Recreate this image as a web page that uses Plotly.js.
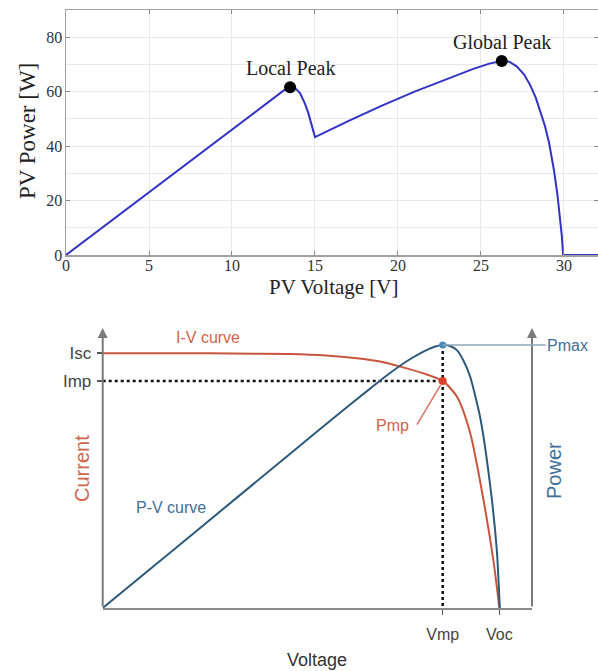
<!DOCTYPE html>
<html>
<head>
<meta charset="utf-8">
<script src="https://cdn.plot.ly/plotly-3.0.1.min.js"></script>
<style>
html,body{margin:0;padding:0;background:#fff;}
#chart{width:598px;height:671px;}
</style>
</head>
<body>
<div id="chart"></div>
<script>
// ---- Top chart: PV power vs PV voltage (partial shading, two peaks) ----
const pvVoltage = [0, 2, 5, 8, 10, 12, 12.8, 13.2, 13.5, 13.8, 14.1, 14.4, 14.6, 14.8, 14.9, 15.0,
  17, 19, 21, 23, 24.5, 25.5, 26.25, 26.7, 27.15, 27.6, 27.95, 28.3, 28.55, 28.85, 29.1, 29.4, 29.6, 29.75, 29.87, 29.95, 32.05];
const pvPower = [0, 9.2, 23, 36.8, 46, 55.2, 58.8, 60.8, 61.6, 61.3, 59.5, 55.5, 52.1, 48, 45.5, 43.3,
  49.2, 54.8, 60.0, 64.8, 68.3, 70.3, 71.3, 71.0, 69.3, 66.3, 62.6, 57.8, 53.3, 47.5, 41.3, 31, 22.5, 14.5, 7, 0, 0];
const peakNames = ["Local Peak", "Global Peak"];
const peakVoltage = [13.5, 26.25];
const peakPower = [61.6, 71.3];
const xTicksTop = [0, 5, 10, 15, 20, 25, 30];
const yTicksTop = [0, 20, 40, 60, 80];

// ---- Bottom chart: schematic I-V and P-V curves (normalised units) ----
const ivVoltage = [0, 20, 30, 43.6, 52, 59.2, 64.6, 69.3, 74.7, 79.2, 82.5, 85.6, 88.7, 91.0, 92.4];
const ivCurrent = [91.0, 91.0, 90.9, 90.7, 90.2, 89.2, 88.0, 86.2, 83.8, 81.1, 75.5, 62.5, 38.6, 17.1, 0];
const pvcVoltage = [0, 20, 43.6, 55, 62, 67, 71, 74.5, 77, 79.2, 81, 82.5, 84, 85.6, 87.9, 90.2, 91.8, 92.5];
const pvcPower = [0, 25.2, 55.0, 69.4, 78.0, 84.0, 88.3, 91.4, 93.1, 93.9, 93.5, 92.1, 88.5, 82.6, 68.3, 44.5, 20.7, 0];
const Isc = 91.0, Imp = 81.1, Pmax = 93.9, Vmp = 79.2, Voc = 92.4;
const yTickText = ["Isc", "Imp"];
const xTickText = ["Vmp", "Voc"];

const W = 598, H = 671;
const px = x => x / W;
const py = y => 1 - y / H;

const serif = "Liberation Serif, Times New Roman, serif";
const sans = "Liberation Sans, Arial, sans-serif";
const red = "#c9553f", redText = "#d0654c", blue = "#2d5a7b", blueText = "#3f6f97";

const traces = [
  {x: pvVoltage, y: pvPower, xaxis: "x", yaxis: "y", mode: "lines",
   line: {color: "#3232c4", width: 2}, hoverinfo: "skip"},
  {x: peakVoltage, y: peakPower, xaxis: "x", yaxis: "y", mode: "markers",
   marker: {color: "#000", size: 12}, cliponaxis: false},
  // dotted guide lines
  {x: [0, Vmp], y: [Imp, Imp], xaxis: "x2", yaxis: "y2", mode: "lines",
   line: {color: "#111", width: 2.5, dash: "dot"}},
  {x: [Vmp, Vmp], y: [Pmax, 0], xaxis: "x2", yaxis: "y2", mode: "lines",
   line: {color: "#111", width: 2.5, dash: "dot"}},
  {x: ivVoltage, y: ivCurrent, xaxis: "x2", yaxis: "y2", mode: "lines",
   line: {color: red, width: 2, shape: "spline", smoothing: 0.7}},
  {x: pvcVoltage, y: pvcPower, xaxis: "x2", yaxis: "y2", mode: "lines",
   line: {color: blue, width: 2, shape: "spline", smoothing: 0.6}},
  {x: [Vmp], y: [Pmax], xaxis: "x2", yaxis: "y2", mode: "markers",
   marker: {color: "#4a88ba", size: 7}},
  {x: [Vmp], y: [Imp], xaxis: "x2", yaxis: "y2", mode: "markers",
   marker: {color: "#d8422c", size: 8}}
];

const topAxisCommon = {
  showline: true, linecolor: "#a0a0a0", linewidth: 1.5, mirror: "ticks",
  ticks: "inside", ticklen: 4, tickcolor: "#888", tickwidth: 1,
  showgrid: true, gridcolor: "#e9e9e9", gridwidth: 1, zeroline: false,
  tickfont: {family: serif, size: 16, color: "#333"}
};

const layout = {
  width: W, height: H,
  margin: {l: 0, r: 0, t: 0, b: 0},
  paper_bgcolor: "#fff", plot_bgcolor: "#fff",
  showlegend: false,
  xaxis: Object.assign({}, topAxisCommon, {
    domain: [px(66), 1], range: [0, 32.05], anchor: "y",
    tickvals: xTicksTop, ticktext: xTicksTop.map(String), ticklabelstandoff: -5
  }),
  yaxis: Object.assign({}, topAxisCommon, {
    domain: [py(255), py(10)], range: [0, 90], anchor: "x",
    tickvals: yTicksTop, ticktext: yTicksTop.map(String), ticklabelstandoff: -1,
    minor: {dtick: 10, tick0: 0, showgrid: true, gridcolor: "#e9e9e9", ticks: ""}
  }),
  xaxis2: {
    domain: [px(102.7), px(532)], range: [0, 100], anchor: "y2",
    showgrid: false, zeroline: false, showline: true, linecolor: "#8a8a8a", linewidth: 2,
    ticks: "outside", ticklen: 5, tickcolor: "#555", tickwidth: 1.5,
    tickvals: [Vmp, Voc], ticktext: xTickText, ticklabelstandoff: 6,
    tickfont: {family: sans, size: 16, color: "#444"}
  },
  yaxis2: {
    domain: [py(608), py(328)], range: [0, 100], anchor: "x2",
    showgrid: false, zeroline: false, showline: false,
    ticks: "outside", ticklen: 5, tickcolor: "#555", tickwidth: 1.5,
    tickvals: [Isc, Imp], ticktext: yTickText, ticklabelstandoff: 2,
    tickfont: {family: sans, size: 17, color: "#444"}
  },
  shapes: [
    {type: "line", xref: "x2", yref: "y2", x0: 73.2, y0: 65.5, x1: 78.7, y1: 79.6,
     line: {color: "#d9735f", width: 1.5}}
  ],
  annotations: [
    // top chart texts
    {text: "PV Voltage [V]", xref: "paper", yref: "paper", x: px(334), y: py(287),
     xanchor: "center", yanchor: "middle", showarrow: false,
     font: {family: serif, size: 21, color: "#222"}},
    {text: "PV Power [W]", xref: "paper", yref: "paper", x: px(27), y: py(131),
     xanchor: "center", yanchor: "middle", showarrow: false, textangle: -90,
     font: {family: serif, size: 23, color: "#222"}},
    {text: peakNames[0], xref: "x", yref: "y", x: peakVoltage[0], y: peakPower[0],
     xanchor: "center", yanchor: "middle", yshift: 19, showarrow: false,
     font: {family: serif, size: 20, color: "#222"}},
    {text: peakNames[1], xref: "x", yref: "y", x: peakVoltage[1], y: peakPower[1],
     xanchor: "center", yanchor: "middle", yshift: 19, showarrow: false,
     font: {family: serif, size: 20, color: "#222"}},
    // bottom chart axes with arrows
    {xref: "x2", yref: "y2", axref: "x2", ayref: "y2", x: 0, y: 100, ax: 0, ay: 0,
     showarrow: true, arrowhead: 2, arrowsize: 1, arrowwidth: 2, arrowcolor: "#7a7a7a", text: ""},
    {xref: "x2", yref: "y2", axref: "x2", ayref: "y2", x: 100, y: 100, ax: 100, ay: 0,
     showarrow: true, arrowhead: 2, arrowsize: 1, arrowwidth: 2, arrowcolor: "#7a7a7a", text: ""},
    // Pmax label with leader
    {text: "Pmax", xref: "x2", yref: "y2", x: Vmp, y: Pmax, ax: 125, ay: 0,
     showarrow: true, arrowhead: 0, arrowwidth: 1.5, arrowcolor: "#8ea6b8", standoff: 0,
     font: {family: sans, size: 16, color: blueText}},
    {text: "Pmp", xref: "paper", yref: "paper", x: px(392), y: py(425),
     xanchor: "center", yanchor: "middle", showarrow: false,
     font: {family: sans, size: 16, color: redText}},
    {text: "I-V curve", xref: "paper", yref: "paper", x: px(208), y: py(337),
     xanchor: "center", yanchor: "middle", showarrow: false,
     font: {family: sans, size: 16, color: redText}},
    {text: "P-V curve", xref: "paper", yref: "paper", x: px(171), y: py(507),
     xanchor: "center", yanchor: "middle", showarrow: false,
     font: {family: sans, size: 16, color: blueText}},
    {text: "Current", xref: "paper", yref: "paper", x: px(82), y: py(469),
     xanchor: "center", yanchor: "middle", showarrow: false, textangle: -90,
     font: {family: sans, size: 20, color: redText}},
    {text: "Power", xref: "paper", yref: "paper", x: px(554), y: py(471),
     xanchor: "center", yanchor: "middle", showarrow: false, textangle: -90,
     font: {family: sans, size: 20, color: blueText}},
    {text: "Voltage", xref: "paper", yref: "paper", x: px(317), y: py(660),
     xanchor: "center", yanchor: "middle", showarrow: false,
     font: {family: sans, size: 18, color: "#333"}}
  ]
};

Plotly.newPlot("chart", traces, layout, {staticPlot: true, displayModeBar: false});
</script>
</body>
</html>
